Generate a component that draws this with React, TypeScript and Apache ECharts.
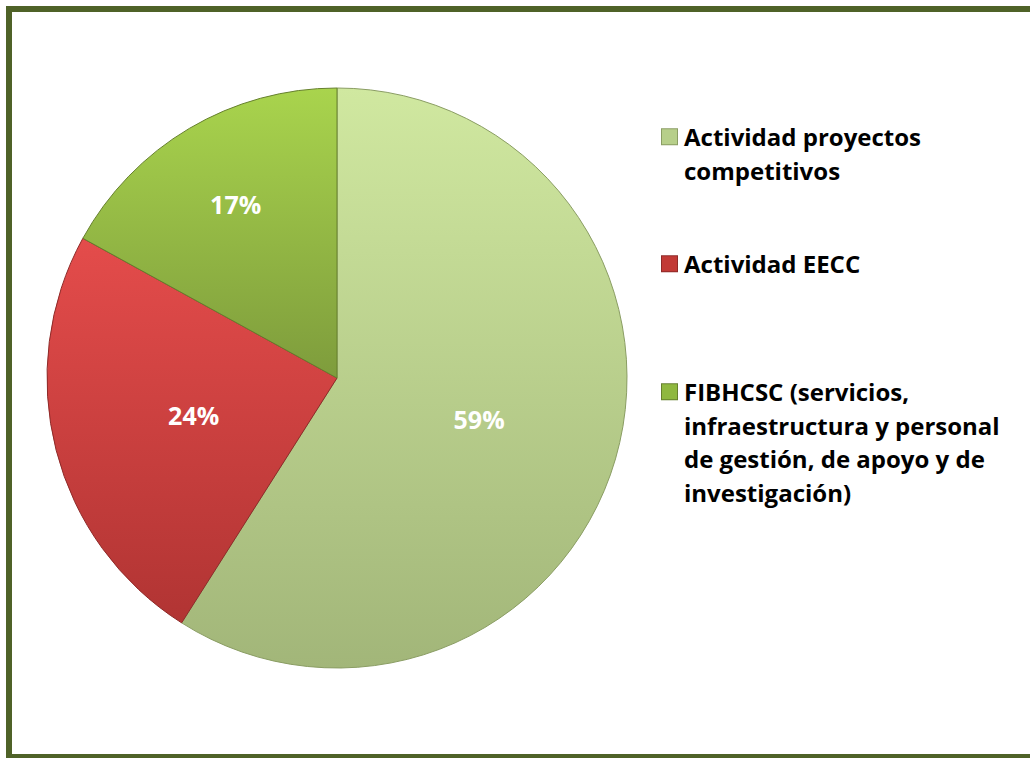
import React, { useEffect, useRef } from "react";
import * as echarts from "echarts";

const categories = [
  "Actividad proyectos competitivos",
  "Actividad EECC",
  "FIBHCSC (servicios, infraestructura y personal de gestión, de apoyo y de investigación)",
];
const values = [59, 24, 17];
const legendLines = [
  ["Actividad proyectos", "competitivos"],
  ["Actividad EECC"],
  ["FIBHCSC (servicios,", "infraestructura y personal", "de gestión, de apoyo y de", "investigación)"],
];
const topColors = ["#d0e8a0", "#e44c4b", "#a9d44d"];
const bottomColors = ["#a2b679", "#b13433", "#7e9c3c"];
const markerColors = ["#b7cf8a", "#c23a36", "#8fb83f"];
const edgeColors = ["#8a9d63", "#8e2a28", "#66802d"];
const legendTops = [115, 242, 370];

const FONT = "'Open Sans', Lato, sans-serif";
const FS = 24;
const LH = 33.5;

export default function App() {
  const ref = useRef<HTMLDivElement>(null);
  useEffect(() => {
    if (!ref.current) return;
    const chart = echarts.init(ref.current, undefined, { renderer: "svg" });
    const data = categories.map((name, i) => ({
      name,
      value: values[i],
      itemStyle: {
        color: {
          type: "linear",
          x: 0,
          y: 0,
          x2: 0,
          y2: 1,
          colorStops: [
            { offset: 0, color: topColors[i] },
            { offset: 1, color: bottomColors[i] },
          ],
        },
        borderColor: edgeColors[i],
        borderWidth: 1,
      },
    }));
    const marker = (i: number) => ({
      width: 15,
      height: 15,
      backgroundColor: markerColors[i],
      borderColor: edgeColors[i],
      borderWidth: 1,
    });
    const legends = categories.map((name, i) => ({
      show: true,
      orient: "vertical",
      left: 652,
      top: legendTops[i],
      icon: "none",
      itemWidth: 0,
      itemHeight: 10,
      selectedMode: false,
      data: [name],
      formatter: () =>
        legendLines[i]
          .map((line, j) => (j === 0 ? `{m${i}|}{t|${line}}` : `{c|${line}}`))
          .join("\n"),
      textStyle: {
        fontFamily: FONT,
        fontSize: FS,
        fontWeight: "bold",
        color: "#000000",
        lineHeight: LH,
        rich: {
          m0: marker(0),
          m1: marker(1),
          m2: marker(2),
          t: { fontFamily: FONT, fontSize: FS, fontWeight: "bold", color: "#000", lineHeight: LH, padding: [0, 0, 0, 7] },
          c: { fontFamily: FONT, fontSize: FS, fontWeight: "bold", color: "#000", lineHeight: LH, padding: [0, 0, 0, 22] },
        },
      },
    }));
    chart.setOption({
      animation: false,
      backgroundColor: "#ffffff",
      color: markerColors,
      legend: legends,
      graphic: [
        {
          type: "rect",
          shape: { x: 9, y: 9, width: 1040, height: 748 },
          style: { fill: "none", stroke: "#4f6228", lineWidth: 6 },
          z: 100,
        },
      ],
      series: [
        {
          type: "pie",
          center: [337, 378],
          radius: 290,
          startAngle: 90,
          clockwise: true,
          data,
          label: {
            show: true,
            position: "inside",
            formatter: "{d}%",
            color: "#ffffff",
            fontFamily: FONT,
            fontSize: 25,
            fontWeight: "bold",
          },
          labelLine: { show: false },
          labelLayout: (params: any) =>
            params.dataIndex === 2 ? { dx: -26, dy: -47 } : {},
          emphasis: { disabled: true },
        },
      ],
    });
    return () => chart.dispose();
  }, []);
  return (
    <div
      ref={ref}
      style={{ position: "absolute", left: 0, top: 0, width: 1030, height: 758 }}
    />
  );
}
